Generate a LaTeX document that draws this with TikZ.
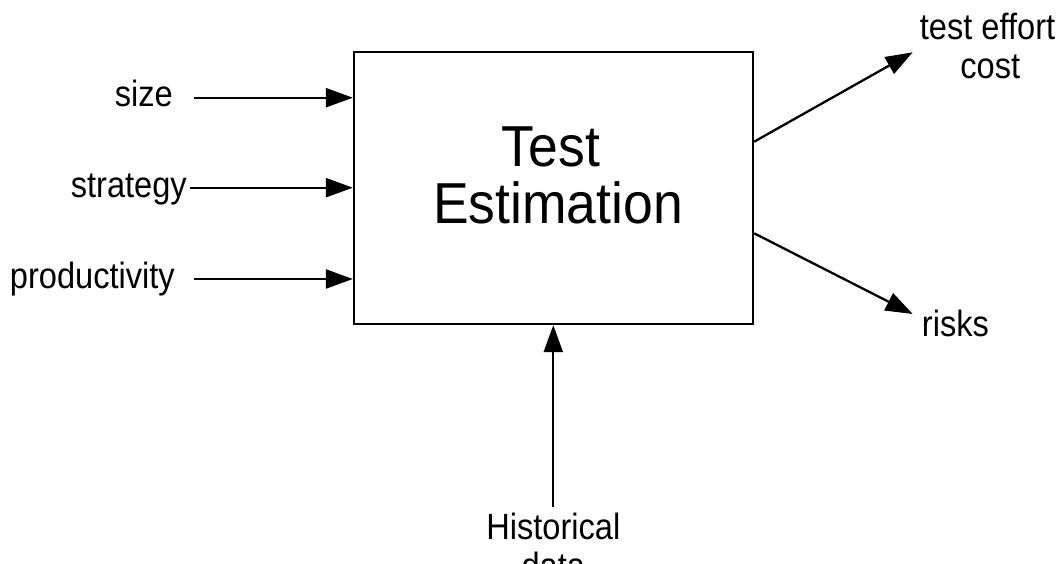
\documentclass[tikz,border=0pt]{standalone}
\usepackage{fontspec}
\setmainfont{Liberation Sans}
\usetikzlibrary{arrows.meta}
% slightly tall lettering, stretched upward from the baseline
\newcommand{\tallset}[2][1.12]{\scalebox{1}[#1]{#2}}

\begin{document}
\begin{tikzpicture}[x=1pt, y=-1pt,
  lbl/.style={inner sep=0pt, font=\fontsize{32.6}{39}\selectfont},
  ttl/.style={inner sep=0pt, font=\fontsize{53.5}{57}\selectfont},
  frame/.style={draw, line width=2.3pt, minimum width=399pt, minimum height=272pt, inner sep=0pt},
  arr/.style={line width=2.3pt, -{Triangle[length=27pt, width=19pt]}}]
  \useasboundingbox (0,0) rectangle (1063,564);

  % central process box
  \node[frame] (box) at (553.5,188) {};
  \node[ttl, anchor=base] (t1) at (551,166.7) {\tallset[1.08]{Test}};
  \node[ttl, anchor=base] (t2) at (558,223.3) {\tallset[1.08]{Estimation}};

  % inputs on the left
  \node[lbl, anchor=base east] (size) at (173,106.7) {\tallset{size}};
  \node[lbl, anchor=base east] (strat) at (187,197.3) {\tallset{strategy}};
  \node[lbl, anchor=base east] (prod) at (175,288.3) {\tallset{productivity}};
  \coordinate (s1) at (194,97.7);
  \coordinate (s2) at (190,187.7);
  \coordinate (s3) at (194,279);
  \draw[arr] (s1) -- (s1 -| box.west);
  \draw[arr] (s2) -- (s2 -| box.west);
  \draw[arr] (s3) -- (s3 -| box.west);

  % outputs on the right
  \node[lbl, anchor=base] (eff) at (987.5,39.3) {\tallset{test effort}};
  \node[lbl, anchor=base] (cost) at (990.3,78.3) {\tallset{cost}};
  \node[lbl, anchor=base west] (risks) at (921.7,336.7) {\tallset{risks}};
  \coordinate (o1) at (752,141.7);
  \coordinate (o2) at (752,233.3);
  \coordinate (e1) at (912.7,52.3);
  \coordinate (e2) at (912.7,314);
  \draw[arr] (o1 -| box.east) -- (e1);
  \draw[arr] (o2 -| box.east) -- (e2);

  % historical data feeding in from below
  \node[lbl, anchor=base] (hist) at (553.3,539.3) {\tallset{Historical}};
  \node[lbl, anchor=base] (data) at (553.3,578.3) {\tallset{data}};
  \coordinate (h) at (553.3,507);
  \draw[arr] (h) -- (h |- box.south);
\end{tikzpicture}
\end{document}
